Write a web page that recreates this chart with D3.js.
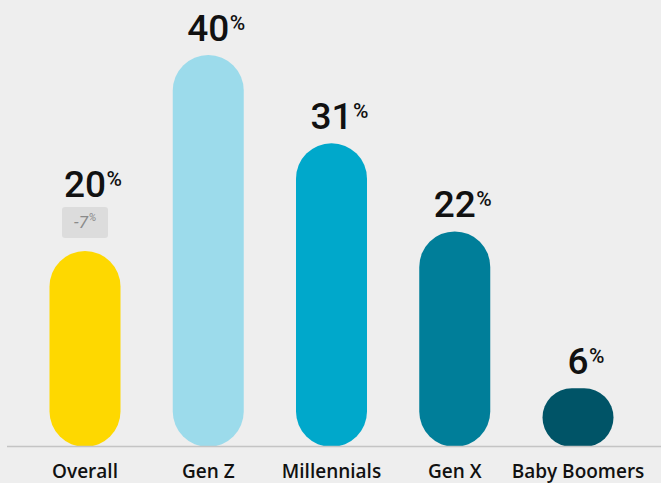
<!DOCTYPE html>
<html>
<head>
<meta charset="utf-8">
<script src="https://cdn.jsdelivr.net/npm/d3@7/dist/d3.min.js"></script>
<style>
  html, body { margin: 0; padding: 0; background: #eeeeee; }
  svg { display: block; }
</style>
</head>
<body>
<svg id="chart" width="661" height="483"></svg>
<script>
// Share by generation, in percent
const categories = ["Overall", "Gen Z", "Millennials", "Gen X", "Baby Boomers"];
const values = [20, 40, 31, 22, 6];
const colors = ["#fed800", "#9cdbeb", "#00a8cb", "#007e99", "#005467"];
// Change badge shown under the overall figure
const changeLabels = ["-7", null, null, null, null];

const W = 661, H = 483;
const svg = d3.select("#chart");

const x = d3.scalePoint().domain(categories).range([85, 578]);
const y = d3.scaleLinear().domain([0, 40]).range([447, 55]);
const barW = 71;

const rows = categories.map((c, i) => ({
  cat: c, value: values[i], color: colors[i], change: changeLabels[i]
}));

// Pill-shaped bars
svg.selectAll("rect.bar").data(rows).join("rect")
  .attr("class", "bar")
  .attr("x", d => x(d.cat) - barW / 2)
  .attr("y", d => y(d.value))
  .attr("width", barW)
  .attr("height", d => y(0) - y(d.value))
  .attr("rx", d => Math.min(barW / 2, (y(0) - y(d.value)) / 2))
  .attr("ry", d => Math.min(barW / 2, (y(0) - y(d.value)) / 2))
  .attr("fill", d => d.color);

// Baseline
svg.append("line")
  .attr("x1", 7).attr("x2", W)
  .attr("y1", y(0) - 0.5).attr("y2", y(0) - 0.5)
  .attr("stroke", "#c4c4c4").attr("stroke-width", 1.5);

// Value labels: number centred on the bar, superscript % after it
const valueFont = "Roboto, 'Open Sans', sans-serif";
rows.forEach(d => {
  const cx = x(d.cat);
  const base = d.change ? y(d.value) - 54 : y(d.value) - 14;
  const num = svg.append("text")
    .attr("x", cx).attr("y", base)
    .attr("text-anchor", "middle")
    .attr("font-family", valueFont)
    .attr("font-weight", 500)
    .attr("font-size", 37)
    .attr("fill", "#111")
    .text(d.value);
  const w = num.node().getComputedTextLength();
  svg.append("text")
    .attr("x", cx + w / 2 + 0.5).attr("y", base - 11)
    .attr("font-family", valueFont)
    .attr("font-weight", 500)
    .attr("font-size", 21)
    .attr("fill", "#111")
    .text("%");

  if (d.change) {
    const by = y(d.value) - 44;
    svg.append("rect")
      .attr("x", cx - 23).attr("y", by)
      .attr("width", 46).attr("height", 31)
      .attr("rx", 3)
      .attr("fill", "#dcdcdc");
    const ch = svg.append("text")
      .attr("x", cx - 4).attr("y", by + 21)
      .attr("text-anchor", "middle")
      .attr("font-family", valueFont)
      .attr("font-style", "italic")
      .attr("font-size", 17)
      .attr("fill", "#8a8a8a")
      .text(d.change);
    const cw = ch.node().getComputedTextLength();
    svg.append("text")
      .attr("x", cx - 4 + cw / 2 + 0.5).attr("y", by + 14)
      .attr("font-family", valueFont)
      .attr("font-style", "italic")
      .attr("font-size", 11)
      .attr("fill", "#8a8a8a")
      .text("%");
  }
});

// Category axis labels
svg.selectAll("text.cat").data(rows).join("text")
  .attr("class", "cat")
  .attr("x", d => x(d.cat))
  .attr("y", 478)
  .attr("text-anchor", "middle")
  .attr("font-family", "'Open Sans', Lato, sans-serif")
  .attr("font-weight", 600)
  .attr("font-size", 19)
  .attr("fill", "#111")
  .text(d => d.cat);
</script>
</body>
</html>
